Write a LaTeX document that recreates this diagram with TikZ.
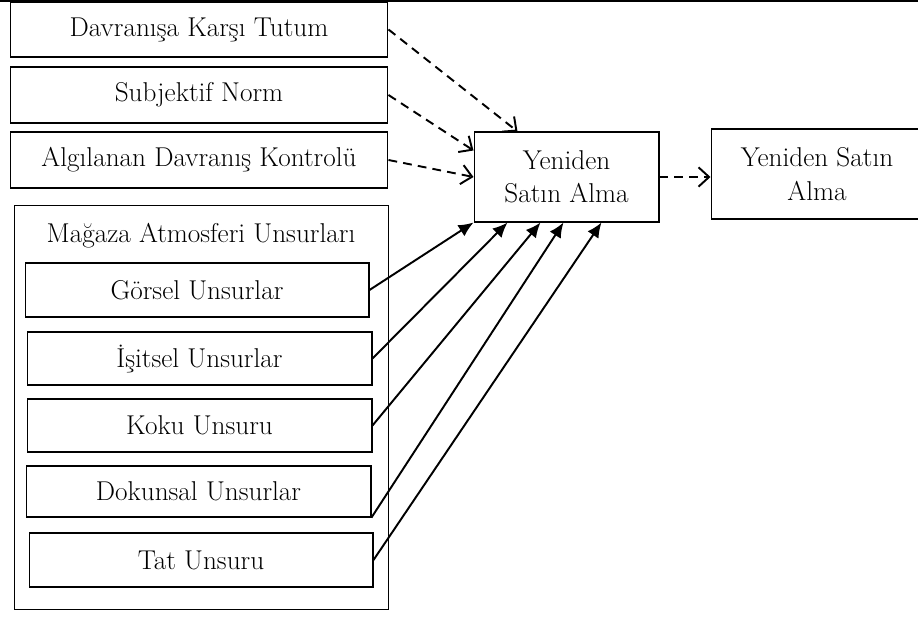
\documentclass[tikz,border=0pt]{standalone}
\usepackage{tikz}
\usetikzlibrary{arrows.meta}
\tikzset{
    kutu/.style={draw,line width=0.6pt,inner sep=0pt,align=center,
        font=\fontsize{15.5}{19}\selectfont},
    kesik/.style={line width=1.1pt,dash pattern=on 5pt off 3.5pt,
        -{Straight Barb[length=6pt,width=11pt,line width=1.1pt]}},
    duz/.style={line width=1.1pt,-{Latex[length=8.5pt,width=7.5pt]}}
}
\begin{document}
\begin{tikzpicture}[x=0.02cm,y=-0.02cm]
    \useasboundingbox (0,0) rectangle (918,617);
    % top rule
    \draw[line width=0.6pt] (0,1) -- (918,1);
    % left column
    \node[kutu,minimum width=7.56cm,minimum height=1.1cm] (att) at (199,29.5) {Davranışa Karşı Tutum};
    \node[kutu,minimum width=7.56cm,minimum height=1.12cm] (norm) at (199,95) {Subjektif Norm};
    \node[kutu,minimum width=7.56cm,minimum height=1.12cm] (pbc) at (199,160) {Algılanan Davranış Kontrolü};
    % store atmosphere group
    \node[kutu,minimum width=7.5cm,minimum height=8.1cm] (atmo) at (201.5,407.5) {};
    \node[font=\fontsize{15.5}{19}\selectfont,inner sep=0pt] (atmot) at (201,236) {Mağaza Atmosferi Unsurları};
    \node[kutu,minimum width=6.88cm,minimum height=1.08cm] (vis) at (197,290) {Görsel Unsurlar};
    \node[kutu,minimum width=6.9cm,minimum height=1.06cm] (aud) at (199.5,358.5) {İşitsel Unsurlar};
    \node[kutu,minimum width=6.9cm,minimum height=1.06cm] (sme) at (199.5,425.5) {Koku Unsuru};
    \node[kutu,minimum width=6.9cm,minimum height=1.02cm] (tou) at (198.5,491.5) {Dokunsal Unsurlar};
    \node[kutu,minimum width=6.88cm,minimum height=1.08cm] (tas) at (201,560) {Tat Unsuru};
    % intention and behaviour
    \node[kutu,minimum width=3.7cm,minimum height=1.8cm] (rp) at (566.5,177) {Yeniden\\Satın Alma};
    \node[kutu,minimum width=4.24cm,minimum height=1.8cm] (rpb) at (817,174) {Yeniden Satın\\Alma};
    % dashed paths
    \draw[kesik] (att.east) -- ([xshift=0.88cm]rp.north west);
    \draw[kesik] (norm.east) -- ([yshift=-0.38cm]rp.north west);
    \draw[kesik] (pbc.east) -- (rp.west);
    \draw[kesik] (rp.east) -- (rp.east -| rpb.west);
    % solid paths
    \foreach \kaynak/\dx in {vis.east/0, aud.east/0.68, sme.east/1.34, tou.south east/1.8, tas.east/2.56}
        \draw[duz] (\kaynak) -- ([xshift=\dx cm]rp.south west);
\end{tikzpicture}
\end{document}
